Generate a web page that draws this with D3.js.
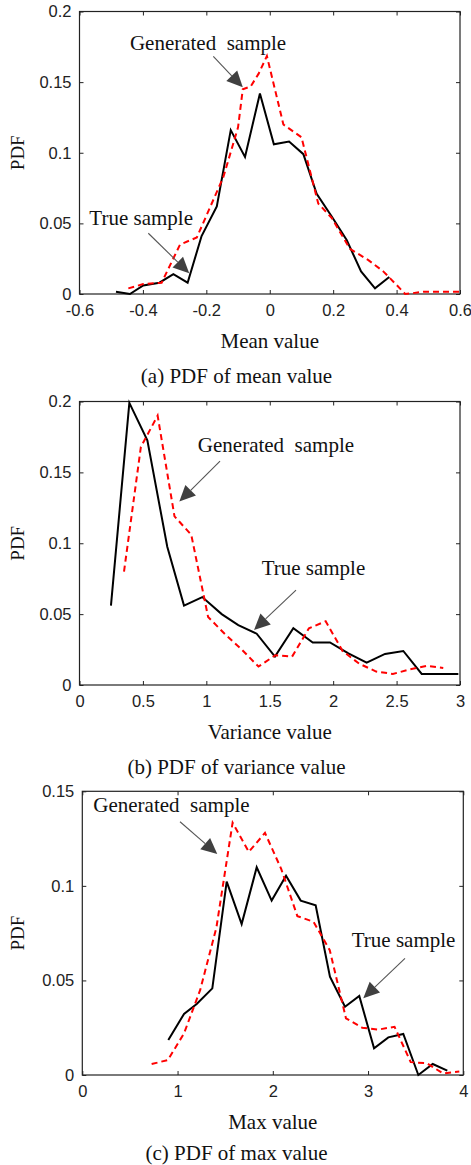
<!DOCTYPE html>
<html>
<head>
<meta charset="utf-8">
<title>PDF panels</title>
<script src="https://cdn.jsdelivr.net/npm/d3@7/dist/d3.min.js"></script>
<style>
    body { margin: 0; background: #fff; }
    .tick-label { font-family: "Liberation Sans", Arial, sans-serif; font-size: 16.5px; fill: #222; }
    .serif { font-family: "Liberation Serif", "Times New Roman", serif; fill: #111; }
</style>
</head>
<body>
<svg id="chart" width="471" height="1165"></svg>
<script>
// (a) mean value
const meanTrueX = [-0.485, -0.441, -0.399, -0.348, -0.304, -0.259, -0.215, -0.167, -0.123, -0.078, -0.031, 0.013, 0.061, 0.106, 0.148, 0.195, 0.243, 0.288, 0.332, 0.377];
const meanTrueY = [0.0016, 0, 0.006, 0.008, 0.014, 0.008, 0.041, 0.062, 0.116, 0.097, 0.142, 0.106, 0.108, 0.099, 0.071, 0.055, 0.038, 0.016, 0.004, 0.012];
const meanGenX = [-0.446, -0.399, -0.341, -0.283, -0.23, -0.146, -0.1, -0.085, -0.06, -0.035, -0.009, 0.043, 0.1, 0.153, 0.195, 0.253, 0.311, 0.358, 0.4, 0.427, 0.448, 0.485, 0.6];
const meanGenY = [0.004, 0.007, 0.008, 0.035, 0.040, 0.083, 0.118, 0.145, 0.147, 0.156, 0.1685, 0.12, 0.111, 0.064, 0.054, 0.032, 0.024, 0.016, 0.0064, 0, 0.0005, 0.0016, 0.0016];
const meanTicksX = [-0.6, -0.4, -0.2, 0, 0.2, 0.4, 0.6];

// (b) variance value
const varTrueX = [0.248, 0.393, 0.535, 0.692, 0.824, 0.968, 1.121, 1.252, 1.397, 1.541, 1.686, 1.839, 1.975, 2.12, 2.264, 2.409, 2.553, 2.698, 2.842, 2.987];
const varTrueY = [0.056, 0.199, 0.1727, 0.0975, 0.056, 0.062, 0.05, 0.0423, 0.0362, 0.02, 0.04, 0.03, 0.03, 0.0223, 0.0157, 0.0219, 0.024, 0.0078, 0.0078, 0.0078];
const varGenX = [0.351, 0.484, 0.616, 0.749, 0.881, 1.014, 1.146, 1.279, 1.411, 1.544, 1.676, 1.809, 1.941, 2.074, 2.206, 2.339, 2.471, 2.604, 2.736, 2.868];
const varGenY = [0.080, 0.168, 0.190, 0.119, 0.106, 0.048, 0.036, 0.025, 0.013, 0.021, 0.020, 0.040, 0.045, 0.024, 0.015, 0.0095, 0.0078, 0.011, 0.0135, 0.012];
const varTicksX = [0, 0.5, 1, 1.5, 2, 2.5, 3];

// (c) max value
const maxTrueX = [0.903, 1.068, 1.201, 1.365, 1.516, 1.673, 1.831, 1.988, 2.139, 2.293, 2.45, 2.6, 2.758, 2.908, 3.063, 3.213, 3.37, 3.528, 3.679, 3.832];
const maxTrueY = [0.0185, 0.0323, 0.0375, 0.0458, 0.1022, 0.0798, 0.1098, 0.0922, 0.1054, 0.0922, 0.0897, 0.052, 0.0361, 0.0418, 0.0141, 0.0199, 0.0217, 0, 0.0058, 0.0023];
const maxGenX = [0.728, 0.898, 1.068, 1.238, 1.408, 1.578, 1.748, 1.918, 2.088, 2.258, 2.428, 2.598, 2.768, 2.938, 3.108, 3.278, 3.448, 3.618, 3.788, 3.958];
const maxGenY = [0.0058, 0.0079, 0.022, 0.045, 0.078, 0.1334, 0.118, 0.128, 0.109, 0.084, 0.081, 0.066, 0.030, 0.025, 0.024, 0.0255, 0.0068, 0.0062, 0.0008, 0.0018];
const maxTicksX = [0, 1, 2, 3, 4];

const pdfTicks = [0, 0.05, 0.1, 0.15, 0.2];
const pdfTicksSmall = [0, 0.05, 0.1, 0.15];

const svg = d3.select("#chart");

// plain hyphen, like the original figure
const fmt = d => String(d);

function drawPanel(p) {
    const x = d3.scaleLinear().domain(p.xDomain).range([p.left, p.right]);
    const y = d3.scaleLinear().domain(p.yDomain).range([p.bottom, p.top]);
    const g = svg.append("g");

    // ticks inside the box
    const tickLen = 4;
    g.append("g")
        .attr("transform", `translate(0,${p.bottom})`)
        .call(d3.axisBottom(x).tickValues(p.xTicks).tickSize(-tickLen).tickPadding(10).tickFormat(fmt))
        .call(a => a.select(".domain").remove());
    g.append("g")
        .attr("transform", `translate(0,${p.top})`)
        .call(d3.axisTop(x).tickValues(p.xTicks).tickSize(-tickLen).tickFormat(""))
        .call(a => a.select(".domain").remove());
    g.append("g")
        .attr("transform", `translate(${p.left},0)`)
        .call(d3.axisLeft(y).tickValues(p.yTicks).tickSize(-tickLen).tickPadding(8).tickFormat(fmt))
        .call(a => a.select(".domain").remove());
    g.append("g")
        .attr("transform", `translate(${p.right},0)`)
        .call(d3.axisRight(y).tickValues(p.yTicks).tickSize(-tickLen).tickFormat(""))
        .call(a => a.select(".domain").remove());

    g.selectAll(".tick line").attr("stroke", "#222");
    g.selectAll(".tick text").attr("class", "tick-label");

    g.append("rect")
        .attr("x", p.left).attr("y", p.top)
        .attr("width", p.right - p.left).attr("height", p.bottom - p.top)
        .attr("fill", "none").attr("stroke", "#222").attr("stroke-width", 1.2);

    const line = d3.line().x(d => x(d[0])).y(d => y(d[1]));

    g.append("path")
        .datum(d3.zip(p.trueX, p.trueY))
        .attr("d", line)
        .attr("fill", "none").attr("stroke", "#000").attr("stroke-width", 2)
        .attr("stroke-linejoin", "miter");

    g.append("path")
        .datum(d3.zip(p.genX, p.genY))
        .attr("d", line)
        .attr("fill", "none").attr("stroke", "#ff0000").attr("stroke-width", 2)
        .attr("stroke-dasharray", "6,4");

    // annotations
    p.notes.forEach(n => {
        g.append("text")
            .attr("class", "serif")
            .attr("x", x(n.tx)).attr("y", y(n.ty))
            .attr("font-size", 21)
            .style("white-space", "pre")
            .text(n.label);
        drawArrow(g, x(n.ax0), y(n.ay0), x(n.ax1), y(n.ay1));
    });

    g.append("text")
        .attr("class", "serif")
        .attr("x", (p.left + p.right) / 2).attr("y", p.bottom + 54)
        .attr("text-anchor", "middle").attr("font-size", 21)
        .text(p.xLabel);

    g.append("text")
        .attr("class", "serif")
        .attr("transform", `translate(24,${(p.top + p.bottom) / 2}) rotate(-90)`)
        .attr("text-anchor", "middle").attr("font-size", 19)
        .text("PDF");

    g.append("text")
        .attr("class", "serif")
        .attr("x", 236.5).attr("y", p.bottom + p.captionDy)
        .attr("text-anchor", "middle").attr("font-size", 21)
        .text(p.caption);
}

function drawArrow(g, x0, y0, x1, y1) {
    const ang = Math.atan2(y1 - y0, x1 - x0);
    const headLen = 16, headW = 7.5;
    const bx = x1 - headLen * Math.cos(ang), by = y1 - headLen * Math.sin(ang);
    g.append("line")
        .attr("x1", x0).attr("y1", y0).attr("x2", bx).attr("y2", by)
        .attr("stroke", "#555").attr("stroke-width", 1.1);
    const px = -Math.sin(ang) * headW, py = Math.cos(ang) * headW;
    g.append("path")
        .attr("d", `M${x1},${y1}L${bx + px},${by + py}L${bx - px},${by - py}Z`)
        .attr("fill", "#404040");
}

drawPanel({
    left: 79.5, right: 460, top: 11.5, bottom: 294,
    xDomain: [-0.6, 0.6], yDomain: [0, 0.2],
    xTicks: meanTicksX, yTicks: pdfTicks,
    trueX: meanTrueX, trueY: meanTrueY, genX: meanGenX, genY: meanGenY,
    xLabel: "Mean value", caption: "(a) PDF of mean value", captionDy: 89,
    notes: [
        { label: "Generated  sample", tx: -0.441, ty: 0.1727, ax0: -0.178, ay0: 0.1682, ax1: -0.085, ay1: 0.1463 },
        { label: "True sample", tx: -0.569, ty: 0.0488, ax0: -0.383, ay0: 0.043, ax1: -0.254, ay1: 0.0147 }
    ]
});

drawPanel({
    left: 79.5, right: 460, top: 401.5, bottom: 685,
    xDomain: [0, 3], yDomain: [0, 0.2],
    xTicks: varTicksX, yTicks: pdfTicks,
    trueX: varTrueX, trueY: varTrueY, genX: varGenX, genY: varGenY,
    xLabel: "Variance value", caption: "(b) PDF of variance value", captionDy: 89,
    notes: [
        { label: "Generated  sample", tx: 0.933, ty: 0.1645, ax0: 1.108, ay0: 0.158, ax1: 0.787, ay1: 0.1294 },
        { label: "True sample", tx: 1.436, ty: 0.0775, ax0: 1.707, ay0: 0.067, ax1: 1.376, ay1: 0.0388 }
    ]
});

drawPanel({
    left: 82.3, right: 463.3, top: 791.3, bottom: 1075,
    xDomain: [0, 4], yDomain: [0, 0.15],
    xTicks: maxTicksX, yTicks: pdfTicksSmall,
    trueX: maxTrueX, trueY: maxTrueY, genX: maxGenX, genY: maxGenY,
    xLabel: "Max value", caption: "(c) PDF of max value", captionDy: 85,
    notes: [
        { label: "Generated  sample", tx: 0.1155, ty: 0.1389, ax0: 1.026, ay0: 0.1339, ax1: 1.417, ay1: 0.1168 },
        { label: "True sample", tx: 2.829, ty: 0.0678, ax0: 3.388, ay0: 0.0617, ax1: 2.95, ay1: 0.0406 }
    ]
});
</script>
</body>
</html>
